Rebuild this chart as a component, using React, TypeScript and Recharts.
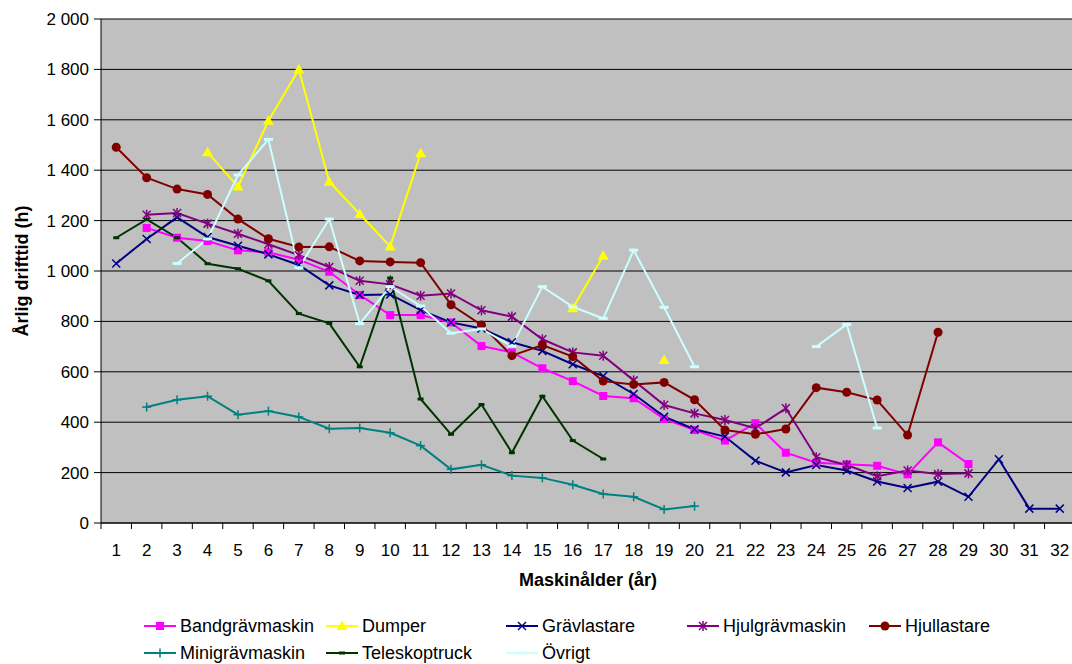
import React from "react";
import { CartesianGrid, Line, LineChart, XAxis, YAxis } from "recharts";

const FONT = '"Liberation Sans", Arial, sans-serif';

// machine age (years)
const ages = [
  "1", "2", "3", "4", "5", "6", "7", "8", "9", "10", "11", "12", "13", "14", "15", "16",
  "17", "18", "19", "20", "21", "22", "23", "24", "25", "26", "27", "28", "29", "30", "31", "32",
];

const yTicks = [0, 200, 400, 600, 800, 1000, 1200, 1400, 1600, 1800, 2000];

// annual operating hours per machine type, null = no data for that age
const bandgravmaskin = [
  null, 1171, 1132, 1119, 1082, 1074, 1045, 997, 905, 825, 825, 796, 702, 677, 614, 563,
  504, 495, 413, 369, 327, 396, 279, 239, 233, 227, 193, 320, 234, null, null, null,
];
const dumper = [
  null, null, null, 1471, 1335, 1596, 1800, 1354, 1226, 1097, 1467, null, null, null, null, 852,
  1061, null, 647, null, null, null, null, null, null, null, null, null, null, null, null, null,
];
const gravlastare = [
  1030, 1127, 1213, 1135, 1100, 1066, 1024, 943, 905, 907, 845, 796, 772, 717, 683, 630,
  583, 512, 422, 372, 343, 247, 201, 230, 208, 165, 139, 164, 104, 253, 57, 57,
];
const hjulgravmaskin = [
  null, 1223, 1230, 1188, 1148, 1106, 1063, 1016, 961, 947, 902, 911, 844, 819, 729, 677,
  664, 566, 468, 435, 409, 376, 455, 261, 230, 186, 208, 194, 197, null, null, null,
];
const hjullastare = [
  1491, 1370, 1325, 1304, 1206, 1128, 1095, 1096, 1040, 1036, 1033, 866, 786, 664, 706, 660,
  563, 550, 558, 489, 369, 352, 373, 537, 519, 488, 349, 757, null, null, null, null,
];
const minigravmaskin = [
  null, 460, 489, 503, 430, 444, 421, 374, 377, 358, 307, 213, 231, 188, 179, 152,
  115, 104, 54, 67, null, null, null, null, null, null, null, null, null, null, null, null,
];
const teleskoptruck = [
  1132, 1205, 1132, 1029, 1009, 961, 831, 792, 620, 972, 492, 352, 470, 279, 503, 327,
  254, null, null, null, null, null, null, null, null, null, null, null, null, null, null, null,
];
const ovrigt = [
  null, null, 1030, 1127, 1381, 1522, 1013, 1206, 791, 938, 861, 753, 770, 702, 938, 858,
  812, 1083, 856, 620, null, null, null, 700, 788, 377, null, null, null, null, null, null,
];

type MarkerKind = "square" | "triangle" | "cross" | "star" | "circle" | "plus" | "tick" | "bar";

const series: { name: string; values: (number | null)[]; color: string; marker: MarkerKind }[] = [
  { name: "Bandgrävmaskin", values: bandgravmaskin, color: "#FF00FF", marker: "square" },
  { name: "Dumper", values: dumper, color: "#FFFF00", marker: "triangle" },
  { name: "Grävlastare", values: gravlastare, color: "#000080", marker: "cross" },
  { name: "Hjulgrävmaskin", values: hjulgravmaskin, color: "#800080", marker: "star" },
  { name: "Hjullastare", values: hjullastare, color: "#800000", marker: "circle" },
  { name: "Minigrävmaskin", values: minigravmaskin, color: "#008080", marker: "plus" },
  { name: "Teleskoptruck", values: teleskoptruck, color: "#003300", marker: "tick" },
  { name: "Övrigt", values: ovrigt, color: "#CCFFFF", marker: "bar" },
];

const data = ages.map((age, i) => {
  const row: Record<string, string | number | null> = { age };
  series.forEach((s) => {
    row[s.name] = s.values[i];
  });
  return row;
});

const CHART_W = 1080;
const CHART_H = 664;
const MARGIN = { top: 19, right: 5, bottom: 71, left: 0 };
const Y_AXIS_W = 101;
const BAND = (CHART_W - MARGIN.left - MARGIN.right - Y_AXIS_W) / ages.length;

const fmtHours = (v: number) =>
  v >= 1000 ? `${Math.floor(v / 1000)} ${String(v % 1000).padStart(3, "0")}` : String(v);

const Marker = ({ kind, color, cx, cy }: { kind: MarkerKind; color: string; cx: number; cy: number }) => {
  switch (kind) {
    case "square":
      return <rect x={cx - 4} y={cy - 4} width={8} height={8} fill={color} />;
    case "triangle":
      return <polygon points={`${cx},${cy - 5.5} ${cx + 5.5},${cy + 4} ${cx - 5.5},${cy + 4}`} fill={color} />;
    case "cross":
      return (
        <g stroke={color} strokeWidth={1.5}>
          <line x1={cx - 4} y1={cy - 4} x2={cx + 4} y2={cy + 4} />
          <line x1={cx - 4} y1={cy + 4} x2={cx + 4} y2={cy - 4} />
        </g>
      );
    case "star":
      return (
        <g stroke={color} strokeWidth={1.5}>
          <line x1={cx - 4} y1={cy - 4} x2={cx + 4} y2={cy + 4} />
          <line x1={cx - 4} y1={cy + 4} x2={cx + 4} y2={cy - 4} />
          <line x1={cx} y1={cy - 5} x2={cx} y2={cy + 5} />
        </g>
      );
    case "circle":
      return <circle cx={cx} cy={cy} r={4.5} fill={color} />;
    case "plus":
      return (
        <g stroke={color} strokeWidth={1.5}>
          <line x1={cx - 4.5} y1={cy} x2={cx + 4.5} y2={cy} />
          <line x1={cx} y1={cy - 4.5} x2={cx} y2={cy + 4.5} />
        </g>
      );
    case "tick":
      return <rect x={cx - 3} y={cy - 1.5} width={6} height={3} fill={color} />;
    case "bar":
      return <rect x={cx - 4.5} y={cy - 1.5} width={9} height={3} fill={color} />;
  }
};

const renderDot = (kind: MarkerKind, color: string) => (p: any) => {
  if (p.cy == null || Number.isNaN(p.cy) || p.value == null) return <g key={`d-${p.index}`} />;
  return (
    <g key={`d-${p.index}`}>
      <Marker kind={kind} color={color} cx={p.cx} cy={p.cy} />
    </g>
  );
};

// category ticks sit between the ages, labels centred under each age
const AgeTick = (props: any) => {
  const { x, y, payload } = props;
  return (
    <g>
      <line x1={x - BAND / 2} y1={y} x2={x - BAND / 2} y2={y + 6} stroke="#000" />
      <text x={x} y={y + 27} dy="0.35em" textAnchor="middle" fontSize={17} fontFamily={FONT} fill="#000">
        {payload.value}
      </text>
    </g>
  );
};

const legendCols = [144, 326, 506, 687, 869];
const legendRows = [626, 653];

const Legend = () => (
  <>
    {series.map((s, i) => {
      const left = legendCols[i % 5];
      const top = legendRows[Math.floor(i / 5)];
      return (
        <div
          key={s.name}
          style={{ position: "absolute", left, top: top - 11, height: 22, display: "flex", alignItems: "center" }}
        >
          <svg width={32} height={22}>
            <line x1={0} y1={11} x2={32} y2={11} stroke={s.color} strokeWidth={2} />
            <Marker kind={s.marker} color={s.color} cx={16} cy={11} />
          </svg>
          <span style={{ marginLeft: 4, fontSize: 18, fontFamily: FONT, color: "#000", whiteSpace: "nowrap" }}>
            {s.name}
          </span>
        </div>
      );
    })}
  </>
);

export default function App() {
  return (
    <div
      style={{
        position: "fixed",
        left: 0,
        top: 0,
        width: 1072,
        height: 664,
        overflow: "hidden",
        background: "#fff",
        fontFamily: FONT,
      }}
    >
      <LineChart width={CHART_W} height={CHART_H} data={data} margin={MARGIN}>
        <CartesianGrid vertical={false} stroke="#000" fill="#C0C0C0" fillOpacity={1} />
        <XAxis
          dataKey="age"
          height={70}
          interval={0}
          padding={{ left: BAND / 2, right: BAND / 2 }}
          tickLine={false}
          tickSize={0}
          tickMargin={0}
          axisLine={{ stroke: "#000" }}
          tick={(props: any) => <AgeTick {...props} />}
          label={{
            content: (p: any) => {
              const vb = p.viewBox;
              return (
                <text
                  x={vb.x + vb.width / 2}
                  y={vb.y + 57}
                  dy="0.35em"
                  textAnchor="middle"
                  fontSize={18}
                  fontWeight="bold"
                  fontFamily={FONT}
                  fill="#000"
                >
                  Maskinålder (år)
                </text>
              );
            },
          }}
        />
        <YAxis
          width={Y_AXIS_W}
          domain={[0, 2000]}
          ticks={yTicks}
          interval={0}
          tickFormatter={fmtHours}
          tickSize={7}
          tickMargin={5}
          tickLine={{ stroke: "#000" }}
          axisLine={{ stroke: "#000" }}
          tick={{ fill: "#000", fontSize: 17, fontFamily: FONT }}
          label={{
            content: (p: any) => {
              const vb = p.viewBox;
              const cx = 22;
              const cy = vb.y + vb.height / 2;
              return (
                <text
                  x={cx}
                  y={cy}
                  dy="0.35em"
                  transform={`rotate(-90, ${cx}, ${cy})`}
                  textAnchor="middle"
                  fontSize={18}
                  fontWeight="bold"
                  fontFamily={FONT}
                  fill="#000"
                >
                  Årlig drifttid (h)
                </text>
              );
            },
          }}
        />
        {series.map((s) => (
          <Line
            key={s.name}
            dataKey={s.name}
            type="linear"
            stroke={s.color}
            strokeWidth={2}
            dot={renderDot(s.marker, s.color)}
            activeDot={false}
            connectNulls={false}
            isAnimationActive={false}
          />
        ))}
      </LineChart>
      <Legend />
    </div>
  );
}
